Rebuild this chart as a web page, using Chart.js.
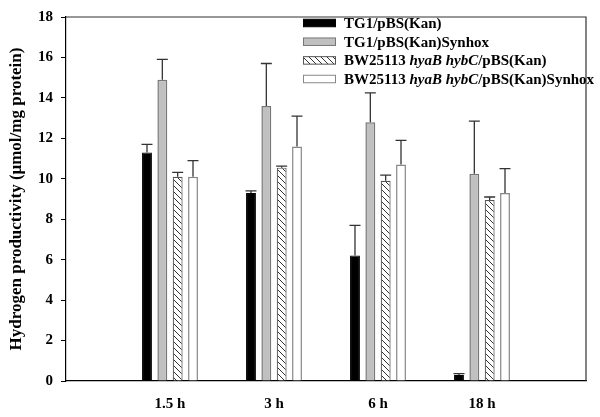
<!DOCTYPE html>
<html>
<head>
<meta charset="utf-8">
<script src="https://cdn.jsdelivr.net/npm/chart.js@4.4.0/dist/chart.umd.min.js"></script>
<style>
  html, body { margin: 0; padding: 0; background: #fff; }
  #chartContainer { width: 600px; height: 417px; }
</style>
</head>
<body>
<div id="chartContainer"><canvas id="myChart"></canvas></div>
<script>
// time points
const times = ['1.5 h', '3 h', '6 h', '18 h'];

// hydrogen productivity, umol/mg protein
const tg1Kan = [11.3, 9.3, 6.2, 0.3];
const tg1KanErr = [0.4, 0.1, 1.5, 0.06];
const tg1Synhox = [14.9, 13.6, 12.8, 10.25];
const tg1SynhoxErr = [1.0, 2.1, 1.45, 2.6];
const bwKan = [10.1, 10.55, 9.9, 8.95];
const bwKanErr = [0.22, 0.08, 0.28, 0.15];
const bwSynhox = [10.1, 11.6, 10.7, 9.3];
const bwSynhoxErr = [0.8, 1.5, 1.2, 1.2];

const yMin = 0, yMax = 18, yStep = 2;

const serif = "'Liberation Serif', 'Times New Roman', serif";

// empty slot at both ends so the groups sit at 1..4 on a 0..5 axis
const pad = arr => [null, ...arr, null];
const labels = ['', ...times, ''];

function makeHatch() {
    const c = document.createElement('canvas');
    c.width = 6; c.height = 6;
    const g = c.getContext('2d');
    g.fillStyle = '#fff';
    g.fillRect(0, 0, 6, 6);
    g.strokeStyle = '#333';
    g.lineWidth = 1;
    g.beginPath();
    g.moveTo(-1, -1); g.lineTo(7, 7);
    g.moveTo(-1, 5); g.lineTo(1, 7);
    g.moveTo(5, -1); g.lineTo(7, 1);
    g.stroke();
    return g.createPattern(c, 'repeat');
}
const hatch = makeHatch();

const errors = [tg1KanErr, tg1SynhoxErr, bwKanErr, bwSynhoxErr];

const legendItems = [
    [{ t: 'TG1/pBS(Kan)', i: false }],
    [{ t: 'TG1/pBS(Kan)Synhox', i: false }],
    [{ t: 'BW25113 ', i: false }, { t: 'hyaB hybC', i: true }, { t: '/pBS(Kan)', i: false }],
    [{ t: 'BW25113 ', i: false }, { t: 'hyaB hybC', i: true }, { t: '/pBS(Kan)Synhox', i: false }]
];

const errorBars = {
    id: 'errorBars',
    afterDatasetsDraw(chart) {
        const ctx = chart.ctx;
        const y = chart.scales.y;
        ctx.save();
        ctx.strokeStyle = '#333';
        ctx.lineWidth = 1.3;
        chart.data.datasets.forEach((ds, i) => {
            const meta = chart.getDatasetMeta(i);
            meta.data.forEach((bar, j) => {
                const v = ds.data[j];
                if (v == null) return;
                const e = errors[i][j - 1];
                const top = y.getPixelForValue(v + e);
                ctx.beginPath();
                ctx.moveTo(bar.x, bar.y);
                ctx.lineTo(bar.x, top);
                ctx.moveTo(bar.x - 5.5, top);
                ctx.lineTo(bar.x + 5.5, top);
                ctx.stroke();
            });
        });
        ctx.restore();
    }
};

const frameAndLegend = {
    id: 'frameAndLegend',
    afterDraw(chart) {
        const ctx = chart.ctx;
        const a = chart.chartArea;
        ctx.save();
        ctx.strokeStyle = '#333';
        ctx.lineWidth = 1.2;
        ctx.beginPath();
        ctx.moveTo(a.left, a.top);
        ctx.lineTo(a.right, a.top);
        ctx.lineTo(a.right, a.bottom);
        ctx.stroke();

        // legend
        const boxX = 303, boxW = 33, boxH = 7.5, textX = 344;
        const rowY = [23, 41.7, 60.4, 79];
        ctx.textBaseline = 'middle';
        chart.data.datasets.forEach((ds, i) => {
            const cy = rowY[i];
            ctx.fillStyle = ds.backgroundColor;
            ctx.fillRect(boxX, cy - boxH / 2, boxW, boxH);
            ctx.strokeStyle = ds.borderColor;
            ctx.lineWidth = 1;
            ctx.strokeRect(boxX + 0.5, cy - boxH / 2, boxW - 1, boxH);
            let x = textX;
            ctx.fillStyle = '#000';
            legendItems[i].forEach(seg => {
                ctx.font = (seg.i ? 'italic ' : '') + 'bold 15px ' + serif;
                ctx.fillText(seg.t, x, cy + 1);
                x += ctx.measureText(seg.t).width;
            });
        });
        ctx.restore();
    }
};

const data = {
    labels: labels,
    datasets: [
        { label: 'TG1/pBS(Kan)', data: pad(tg1Kan), backgroundColor: '#000', borderColor: '#000', borderWidth: 1 },
        { label: 'TG1/pBS(Kan)Synhox', data: pad(tg1Synhox), backgroundColor: '#c0c0c0', borderColor: '#777', borderWidth: 1.5 },
        { label: 'BW25113 hyaB hybC/pBS(Kan)', data: pad(bwKan), backgroundColor: hatch, borderColor: '#555', borderWidth: 1.2 },
        { label: 'BW25113 hyaB hybC/pBS(Kan)Synhox', data: pad(bwSynhox), backgroundColor: '#fff', borderColor: '#888', borderWidth: 1.5 }
    ]
};

const config = {
    type: 'bar',
    data,
    options: {
        responsive: true,
        maintainAspectRatio: false,
        animation: false,
        categoryPercentage: 0.59,
        barPercentage: 0.645,
        layout: { padding: { left: 0, right: 10, top: 14, bottom: 0 } },
        plugins: {
            legend: { display: false },
            tooltip: { enabled: false }
        },
        scales: {
            x: {
                type: 'category',
                offset: false,
                grid: { display: false, drawTicks: false },
                border: { display: true, color: '#000', width: 1.2 },
                ticks: {
                    color: '#000',
                    padding: 14,
                    autoSkip: false,
                    maxRotation: 0,
                    font: { family: serif, size: 15, weight: 'bold' }
                },
                afterFit(scale) { scale.height = 36; }
            },
            y: {
                min: yMin,
                max: yMax,
                grid: { drawOnChartArea: false, tickLength: 5, color: '#000' },
                border: { display: true, color: '#000', width: 1.2 },
                ticks: {
                    stepSize: yStep,
                    color: '#000',
                    padding: 8,
                    font: { family: serif, size: 15, weight: 'bold' }
                },
                title: {
                    display: true,
                    text: 'Hydrogen productivity (\u03bcmol/mg protein)',
                    color: '#000',
                    padding: { top: 6, bottom: 0 },
                    font: { family: serif, size: 17, weight: 'bold' }
                },
                afterFit(scale) { scale.width = 66; }
            }
        }
    },
    plugins: [errorBars, frameAndLegend]
};

const myChart = new Chart(document.getElementById('myChart'), config);
</script>
</body>
</html>
